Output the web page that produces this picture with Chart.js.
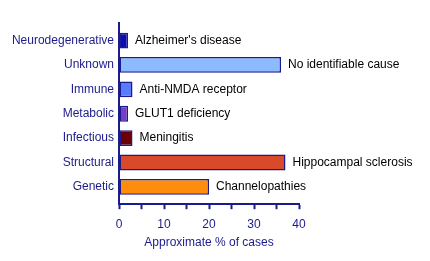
<!DOCTYPE html>
<html>
<head>
<meta charset="utf-8">
<script src="https://cdn.jsdelivr.net/npm/chart.js@4"></script>
<style>
  html, body { margin: 0; padding: 0; background: #fff; }
  #wrap { width: 430px; height: 261px; }
</style>
</head>
<body>
<div id="wrap"><canvas id="chart" width="430" height="261"></canvas></div>
<script>
// Data
const categories = ["Neurodegenerative", "Unknown", "Immune", "Metabolic", "Infectious", "Structural", "Genetic"];
const percentValues = [2, 36, 3, 2, 3, 37, 20];
const examples = ["Alzheimer's disease", "No identifiable cause", "Anti-NMDA receptor", "GLUT1 deficiency", "Meningitis", "Hippocampal sclerosis", "Channelopathies"];
const xTicks = [0, 10, 20, 30, 40];

const barColors = ["#0c0cb0", "#8cbcff", "#5b7cfa", "#7a3cc4", "#6a0008", "#d84a2a", "#ff8c0a"];
const navy = "#1b1b8c";
const fontFamily = "'Liberation Sans', Arial, sans-serif";

// Example text to the right of each bar
const barLabels = {
  id: "barLabels",
  afterDatasetsDraw(chart) {
    const ctx = chart.ctx;
    const meta = chart.getDatasetMeta(0);
    ctx.save();
    ctx.font = "12px " + fontFamily;
    ctx.fillStyle = "#000";
    ctx.textAlign = "left";
    ctx.textBaseline = "middle";
    meta.data.forEach((bar, i) => {
      ctx.fillText(examples[i], bar.x + 7, bar.y);
    });
    ctx.restore();
  }
};

const ctx = document.getElementById("chart").getContext("2d");
new Chart(ctx, {
  type: "bar",
  data: {
    datasets: [
      {
        data: percentValues.map((v, i) => ({ x: v, y: i })),
        backgroundColor: barColors,
        borderColor: navy,
        borderWidth: 1.5,
        borderSkipped: false,
        barPercentage: 0.65,
        categoryPercentage: 1
      }
    ]
  },
  plugins: [barLabels],
  options: {
    indexAxis: "y",
    responsive: false,
    animation: false,
    layout: { padding: { left: 0, right: 131, top: 23, bottom: 7 } },
    plugins: {
      legend: { display: false },
      tooltip: { enabled: false }
    },
    scales: {
      y: {
        type: "linear",
        offset: false,
        reverse: true,
        min: -0.72,
        max: categories.length - 1 + 0.71,
        afterBuildTicks: (scale) => {
          scale.ticks = categories.map((_, i) => ({ value: i }));
        },
        afterFit: (scale) => {
          scale.width = 119;
        },
        grid: { display: false, drawTicks: false },
        border: { display: true, color: navy, width: 2 },
        ticks: {
          color: navy,
          padding: 5,
          font: { family: fontFamily, size: 12 },
          callback: (value) => categories[value]
        }
      },
      x: {
        type: "linear",
        offset: false,
        min: 0,
        max: 40,
        grid: {
          drawOnChartArea: false,
          drawTicks: true,
          tickLength: 5,
          tickWidth: 2,
          tickColor: navy
        },
        border: { display: true, color: navy, width: 2 },
        ticks: {
          stepSize: 5,
          color: navy,
          padding: 8,
          maxRotation: 0,
          font: { family: fontFamily, size: 12 },
          callback: (value) => (xTicks.includes(value) ? String(value) : "")
        },
        title: {
          display: true,
          text: "Approximate % of cases",
          color: navy,
          font: { family: fontFamily, size: 12 },
          padding: { top: -4, bottom: 4 }
        }
      }
    }
  }
});
</script>
</body>
</html>
